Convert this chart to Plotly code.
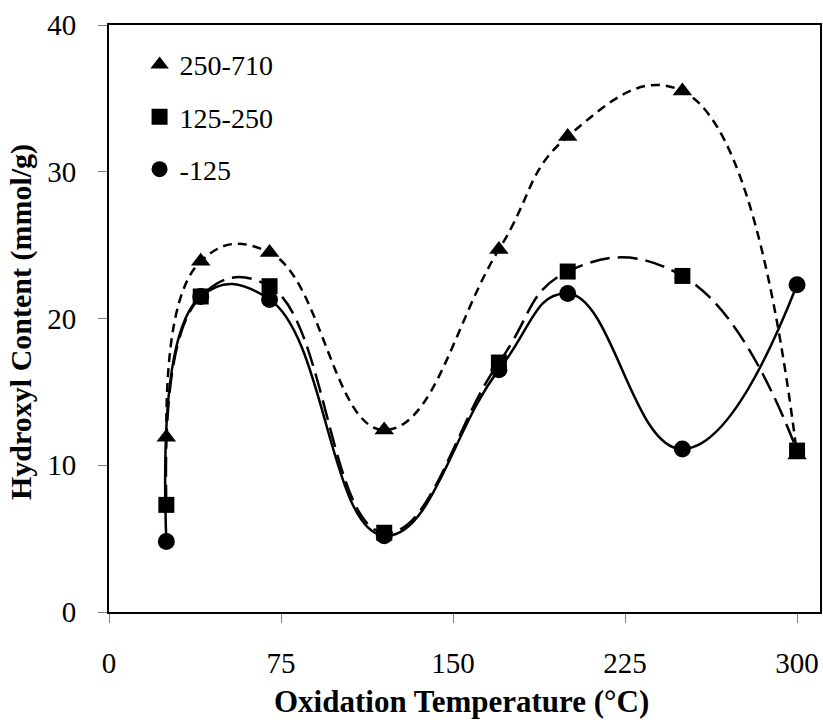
import plotly.graph_objects as go

temps = [25, 40, 70, 120, 170, 200, 250, 300]
s_250_710 = [11.9, 23.9, 24.5, 12.4, 24.7, 32.4, 35.5, 10.7]
s_125_250 = [7.3, 21.5, 22.2, 5.4, 17.0, 23.2, 22.9, 11.0]
s_m125 = [4.8, 21.5, 21.3, 5.2, 16.5, 21.7, 11.1, 22.3]

names = ["250-710", "125-250", "-125"]
series = [s_250_710, s_125_250, s_m125]
symbols = ["triangle-up", "square", "circle"]
sizes = [17, 16, 17]
dashes = ["9px,6px", "20px,8px", "solid"]

FONT = "Liberation Serif, Times New Roman, serif"

fig = go.Figure()
for nm, ys, dsh in zip(names, series, dashes):
    fig.add_trace(go.Scatter(x=temps, y=ys, mode="lines", showlegend=False,
                             line=dict(color="black", width=2.5, dash=dsh,
                                       shape="spline", smoothing=1.3),
                             hoverinfo="skip"))
for i in [2, 1, 0]:
    fig.add_trace(go.Scatter(x=temps, y=series[i], mode="markers", name=names[i],
                             legendgroup=names[i], legendrank=i + 1,
                             marker=dict(symbol=symbols[i], size=sizes[i], color="black",
                                         line=dict(width=0))))

axis_common = dict(showline=True, linecolor="black", linewidth=2, mirror=True,
                   ticks="outside", tickcolor="#808080", ticklen=9, tickwidth=1,
                   showgrid=False, zeroline=False, automargin=False,
                   tickfont=dict(family=FONT, size=29, color="black"))

fig.update_layout(
    width=823, height=722,
    margin=dict(l=109, r=3, t=25, b=110, autoexpand=False),
    paper_bgcolor="white", plot_bgcolor="white",
    xaxis=dict(range=[0, 310], tickvals=[0, 75, 150, 225, 300], **axis_common,
               ticklabelstandoff=15),
    yaxis=dict(range=[0, 40], tickvals=[0, 10, 20, 30, 40], **axis_common,
               ticklabelstandoff=16),
    legend=dict(x=0.043, y=0.975, xanchor="left", yanchor="top",
                traceorder="grouped", tracegroupgap=13,
                font=dict(family=FONT, size=28, color="black"),
                bgcolor="rgba(0,0,0,0)", itemwidth=30),
    annotations=[
        dict(text="<b>Oxidation Temperature (°C)</b>", xref="paper", yref="paper",
             x=(461 - 109) / 711, y=(612 - 701) / 587, showarrow=False,
             font=dict(family=FONT, size=31, color="black"),
             xanchor="center", yanchor="middle"),
        dict(text="<b>Hydroxyl Content (mmol/g)</b>", xref="paper", yref="paper",
             x=(21 - 109) / 711, y=(612 - 322) / 587, showarrow=False, textangle=-90,
             font=dict(family=FONT, size=30, color="black"),
             xanchor="center", yanchor="middle"),
    ],
)

fig.write_html("out.html", config={"displayModeBar": False},
               post_script="document.body.style.margin='0';document.body.style.padding='0';")
